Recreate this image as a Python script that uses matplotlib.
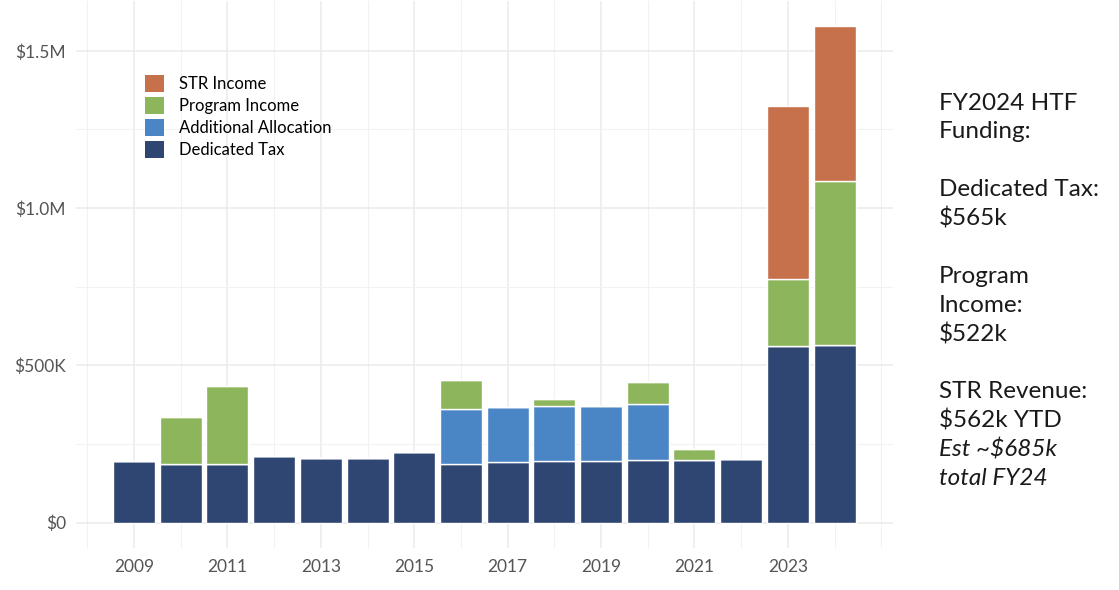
import matplotlib
matplotlib.use("Agg")
import matplotlib.pyplot as plt
from matplotlib.patches import Patch
from matplotlib.ticker import FixedLocator
import numpy as np

years = [2009, 2010, 2011, 2012, 2013, 2014, 2015, 2016, 2017, 2018, 2019, 2020, 2021, 2022, 2023, 2024]
dedicated_tax = [196000, 188000, 188000, 212000, 206000, 206000, 226000, 186000, 193000, 196000, 197000, 199000, 199000, 202000, 561000, 564000]
additional_allocation = [0, 0, 0, 0, 0, 0, 0, 177000, 176000, 176000, 175000, 178000, 0, 0, 0, 0]
program_income = [0, 148000, 245000, 0, 0, 0, 0, 91000, 0, 22000, 0, 69000, 34000, 0, 214000, 523000]
str_income = [0, 0, 0, 0, 0, 0, 0, 0, 0, 0, 0, 0, 0, 0, 551000, 491000]

series_names = ["Dedicated Tax", "Additional Allocation", "Program Income", "STR Income"]
series_colors = ["#2F4572", "#4A86C6", "#8DB55B", "#C6714C"]

y_ticks = [0, 500000, 1000000, 1500000]
y_labels = ["$0", "$500K", "$1.0M", "$1.5M"]
x_ticks = [2009, 2011, 2013, 2015, 2017, 2019, 2021, 2023]

side_lines = [
    ("FY2024 HTF", "normal"), ("Funding:", "normal"), ("", "normal"),
    ("Dedicated Tax:", "normal"), ("$565k", "normal"), ("", "normal"),
    ("Program", "normal"), ("Income:", "normal"), ("$522k", "normal"), ("", "normal"),
    ("STR Revenue:", "normal"), ("$562k YTD", "normal"),
    ("Est ~$685k", "italic"), ("total FY24", "italic"),
]

fig = plt.figure(figsize=(11.19, 5.90), dpi=100)
ax = fig.add_axes([0.0676, 0.072, 0.7304, 0.9255])

x = np.array(years)
bottom = np.zeros(len(years))
stack = [dedicated_tax, additional_allocation, program_income, str_income]
for vals, name, col in zip(stack, series_names, series_colors):
    v = np.array(vals, dtype=float)
    ax.bar(x, v, bottom=bottom, width=0.9, color=col, edgecolor="white",
           linewidth=1.0, label=name, zorder=3)
    bottom += v

total_max = bottom.max()
ax.set_xlim(2007.75, 2025.25)
ax.set_ylim(-0.05 * total_max, 1.05 * total_max)

ax.yaxis.set_major_locator(FixedLocator(y_ticks))
ax.set_yticklabels(y_labels)
ax.yaxis.set_minor_locator(FixedLocator([250000, 750000, 1250000]))
ax.xaxis.set_major_locator(FixedLocator(x_ticks))
ax.set_xticklabels([str(t) for t in x_ticks])
ax.xaxis.set_minor_locator(FixedLocator([2008, 2010, 2012, 2014, 2016, 2018, 2020, 2022, 2024, 2025]))

ax.grid(True, which="major", color="#EBEBEB", linewidth=1.1, zorder=0)
ax.grid(True, which="minor", color="#F2F2F2", linewidth=0.8, zorder=0)
ax.tick_params(which="both", length=0)
ax.tick_params(axis="y", pad=7, labelsize=12.5, labelcolor="#555555")
ax.tick_params(axis="x", pad=8, labelsize=12.5, labelcolor="#555555")
for lab in ax.get_xticklabels() + ax.get_yticklabels():
    lab.set_family(["Lato", "DejaVu Sans"])
for s in ax.spines.values():
    s.set_visible(False)

handles = [Patch(facecolor=c, edgecolor="none") for c in series_colors][::-1]
labels = series_names[::-1]
leg = ax.legend(handles, labels, loc="upper left", bbox_to_anchor=(0.077, 0.877),
                frameon=False, prop={"family": ["Lato", "DejaVu Sans"], "size": 12},
                handlelength=1.15, handleheight=1.15, labelspacing=0.3,
                handletextpad=0.85, borderaxespad=0)

y0 = 103
step = 28.9
for i, (txt, style) in enumerate(side_lines):
    if not txt:
        continue
    fig.text(939 / 1119, 1 - (y0 + i * step) / 590, txt, ha="left", va="center",
             fontsize=17.5, style=style, color="#1A1A1A", fontweight="normal",
             family=["Lato", "DejaVu Sans"])

fig.savefig("out.png", dpi=100, facecolor="white")
